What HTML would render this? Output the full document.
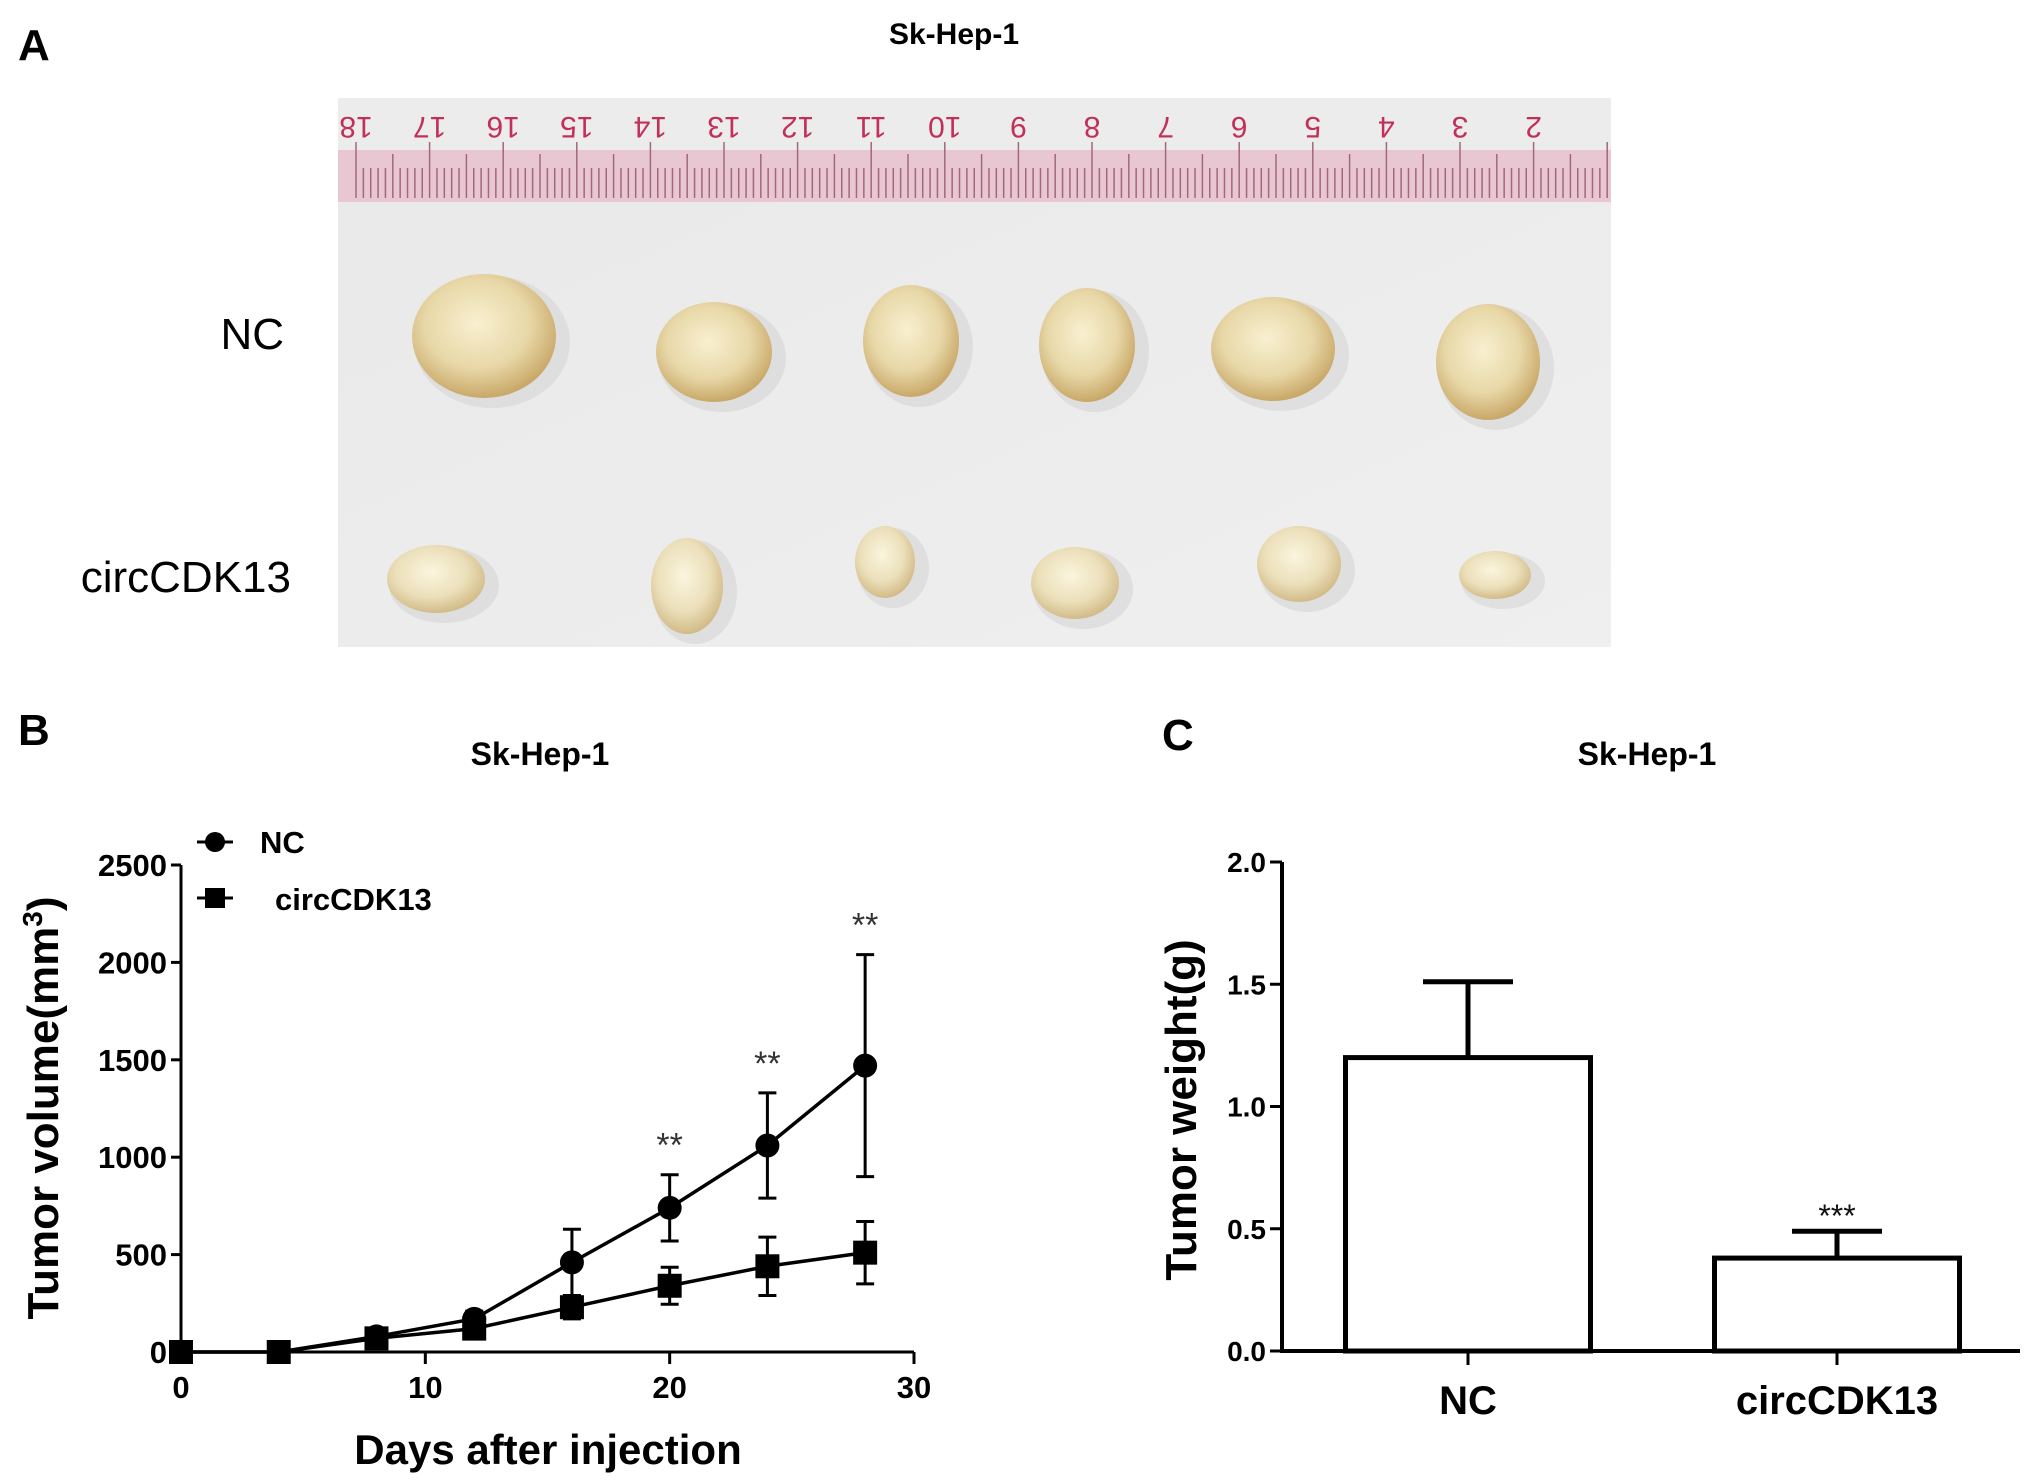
<!DOCTYPE html>
<html><head><meta charset="utf-8"><style>
html,body{margin:0;padding:0;background:#fff}
svg{display:block}
text{font-family:"Liberation Sans",Arial,sans-serif}
</style></head><body>
<svg id="fig" width="2031" height="1482" viewBox="0 0 2031 1482" xmlns="http://www.w3.org/2000/svg">
<defs>
<radialGradient id="tum" cx="45%" cy="40%" r="60%">
<stop offset="0" stop-color="#f8f0d0"/><stop offset="0.6" stop-color="#e8d8a8"/><stop offset="1" stop-color="#c9a868"/>
</radialGradient>
<radialGradient id="tum2" cx="45%" cy="40%" r="60%">
<stop offset="0" stop-color="#fbf5de"/><stop offset="0.6" stop-color="#ece0bb"/><stop offset="1" stop-color="#d2bb88"/>
</radialGradient>
<linearGradient id="bg" x1="0" y1="0" x2="1" y2="1"><stop offset="0" stop-color="#e9e9e9"/><stop offset="1" stop-color="#efefef"/></linearGradient>
</defs>
<!-- Panel A -->
<text x="18" y="60" font-size="44" font-weight="bold">A</text>
<text x="954" y="44" font-size="30" font-weight="bold" text-anchor="middle">Sk-Hep-1</text>
<g>
<rect x="338" y="98" width="1273" height="549" fill="url(#bg)"/>
<rect x="338" y="98" width="1273" height="60" fill="#ececec"/>
<rect x="338" y="150" width="1273" height="52" fill="#e8c6d2"/>
<g id="ruler"></g>
<g id="tumors"></g>
</g>
<text x="284" y="349" font-size="44" text-anchor="end">NC</text>
<text x="291" y="592" font-size="44" text-anchor="end">circCDK13</text>

<!-- Panel B -->
<text x="18" y="745" font-size="44" font-weight="bold">B</text>
<text x="540" y="765" font-size="32" font-weight="bold" text-anchor="middle">Sk-Hep-1</text>
<g id="lineChart"></g>

<!-- Panel C -->
<text x="1162" y="750" font-size="44" font-weight="bold">C</text>
<text x="1647" y="765" font-size="32" font-weight="bold" text-anchor="middle">Sk-Hep-1</text>
<g id="barChart"></g>
</svg>
<script>
// ---- Panel B data ----
const days = [0, 4, 8, 12, 16, 20, 24, 28];
const ncVolume = [0, 0, 80, 170, 460, 740, 1060, 1470];
const ncError = [0, 0, 20, 40, 170, 170, 270, 570];
const circVolume = [0, 0, 70, 120, 230, 340, 440, 510];
const circError = [0, 0, 15, 30, 60, 95, 150, 160];
const volTicks = [0, 500, 1000, 1500, 2000, 2500];
const dayTicks = [0, 10, 20, 30];
const starDays = [20, 24, 28];
// ---- Panel C data ----
const groups = ["NC", "circCDK13"];
const weights = [1.2, 0.38];
const weightErr = [0.31, 0.11];
const weightTicks = [0.0, 0.5, 1.0, 1.5, 2.0];

const NS = "http://www.w3.org/2000/svg";
function mk(parent, tag, attrs, txt){
  const e = document.createElementNS(NS, tag);
  for (const k in attrs) e.setAttribute(k, attrs[k]);
  if (txt !== undefined) e.textContent = txt;
  parent.appendChild(e);
  return e;
}

// ruler
const ruler = document.getElementById('ruler');
for (let i = 0; i <= 178; i++) {
  const x = 356 + i * 7.36;
  if (x > 1608) break;
  const h = i % 10 === 0 ? 56 : (i % 5 === 0 ? 44 : 30);
  const t = mk(ruler, 'line', {x1:x, x2:x, y1:198, y2:198-h, stroke:'#a3687c', 'stroke-width':1.5});
  
  
}
for (let n = 18; n >= 2; n--) {
  const x = 356 + (18 - n) * 73.6;
  const t = mk(ruler, 'text', {x:x, y:117, 'font-size':30, fill:'#c2305a', 'text-anchor':'middle', transform:`rotate(180 ${x} 117)`}, String(n));
  
  
}

// tumors
const tumors = document.getElementById('tumors');
const tum = [[484,336,72,62,'url(#tum)'],[714,352,58,50,'url(#tum)'],[911,341,48,56,'url(#tum)'],[1087,345,48,57,'url(#tum)'],[1273,349,62,52,'url(#tum)'],[1488,362,52,58,'url(#tum)'],
[436,579,49,34,'url(#tum2)'],[687,586,36,48,'url(#tum2)'],[885,562,30,36,'url(#tum2)'],[1075,583,44,36,'url(#tum2)'],[1299,564,42,38,'url(#tum2)'],[1495,575,36,24,'url(#tum2)']];
tum.forEach(t => {
  mk(tumors,'ellipse',{cx:t[0]+8,cy:t[1]+6,rx:t[2]+6,ry:t[3]+4,fill:'#d6d6d6',opacity:0.6});
  const e = mk(tumors,'ellipse',{cx:t[0],cy:t[1],rx:t[2],ry:t[3],fill:t[4]});
  
  
});

// ---- Line chart ----
const lc = document.getElementById('lineChart');
const bx0 = 181, bx1 = 914, by0 = 1352, by1 = 865;
const xS = d => bx0 + (d - 0) / 30 * (bx1 - bx0);
const yS = v => by0 - v / 2500 * (by0 - by1);
const ax = mk(lc,'path',{d:`M${bx0} ${by1} V${by0} H${bx1}`,fill:'none',stroke:'#000','stroke-width':3});


volTicks.forEach(v => {
  mk(lc,'line',{x1:bx0-10,x2:bx0,y1:yS(v),y2:yS(v),stroke:'#000','stroke-width':3});
  const t = mk(lc,'text',{x:bx0-14,y:yS(v)+11,'font-size':31,'font-weight':'bold','text-anchor':'end'},String(v));
  
  
});
dayTicks.forEach(d => {
  mk(lc,'line',{x1:xS(d),x2:xS(d),y1:by0,y2:by0+12,stroke:'#000','stroke-width':3});
  const t = mk(lc,'text',{x:xS(d),y:by0+46,'font-size':31,'font-weight':'bold','text-anchor':'middle'},String(d));
  
  
});
const yt = mk(lc,'text',{x:0,y:0,'font-size':44,'font-weight':'bold','text-anchor':'middle',transform:`translate(58 1108) rotate(-90)`});


yt.appendChild(document.createTextNode('Tumor volume(mm'));
mk(yt,'tspan',{dy:-16,'font-size':28},'3');
mk(yt,'tspan',{dy:16},')');
const xt = mk(lc,'text',{x:548,y:1464,'font-size':42,'font-weight':'bold','text-anchor':'middle'},'Days after injection');



function series(vals, errs, marker, name){
  const g = mk(lc,'g',{});
  
  
  mk(g,'polyline',{points:days.map((d,i)=>`${xS(d)},${yS(vals[i])}`).join(' '),fill:'none',stroke:'#000','stroke-width':3.5});
  days.forEach((d,i)=>{
    if (errs[i] > 30) {
      const x = xS(d), y1 = yS(vals[i]+errs[i]), y2 = yS(vals[i]-errs[i]);
      mk(g,'path',{d:`M${x} ${y1} V${y2} M${x-9} ${y1} H${x+9} M${x-9} ${y2} H${x+9}`,stroke:'#000','stroke-width':3,fill:'none'});
    }
    let m;
    if (marker === 'circle') m = mk(g,'circle',{cx:xS(d),cy:yS(vals[i]),r:12,fill:'#000'});
    else m = mk(g,'rect',{x:xS(d)-12,y:yS(vals[i])-12,width:24,height:24,fill:'#000'});
    
    
  });
}
series(circVolume, circError, 'square', 'circcdk13-series');
series(ncVolume, ncError, 'circle', 'nc-series');
starDays.forEach(d => {
  const i = days.indexOf(d);
  const t = mk(lc,'text',{x:xS(d),y:yS(ncVolume[i]+ncError[i])-18,'font-size':34,'text-anchor':'middle',fill:'#333'},'**');
  
  
});
// legend
const lg = mk(lc,'g',{});


mk(lg,'line',{x1:197,x2:233,y1:842,y2:842,stroke:'#000','stroke-width':3});
mk(lg,'circle',{cx:215,cy:842,r:10,fill:'#000'});
mk(lg,'text',{x:260,y:853,'font-size':31,'font-weight':'bold'},'NC');
mk(lg,'line',{x1:197,x2:233,y1:898,y2:898,stroke:'#000','stroke-width':3});
mk(lg,'rect',{x:205,y:888,width:20,height:20,fill:'#000'});
mk(lg,'text',{x:275,y:910,'font-size':31,'font-weight':'bold'},'circCDK13');

// ---- Bar chart ----
const bc = document.getElementById('barChart');
const cx0 = 1282, cx1 = 2020, cy0 = 1351, cy1 = 862;
const wS = v => cy0 - v / 2.0 * (cy0 - cy1);
const centers = [1468, 1837];
const barW = 245;
const cax = mk(bc,'path',{d:`M${cx0} ${cy1} V${cy0} H${cx1}`,fill:'none',stroke:'#000','stroke-width':4});


weightTicks.forEach(v => {
  mk(bc,'line',{x1:cx0-12,x2:cx0,y1:wS(v),y2:wS(v),stroke:'#000','stroke-width':3});
  const t = mk(bc,'text',{x:cx0-16,y:wS(v)+10,'font-size':28,'font-weight':'bold','text-anchor':'end'},v.toFixed(1));
  
  
});
const cyt = mk(bc,'text',{x:0,y:0,'font-size':44,'font-weight':'bold','text-anchor':'middle',transform:`translate(1196 1110) rotate(-90)`},'Tumor weight(g)');


groups.forEach((g,i)=>{
  const c = centers[i], top = wS(weights[i]), et = wS(weights[i]+weightErr[i]);
  mk(bc,'path',{d:`M${c} ${top} V${et} M${c-45} ${et} H${c+45}`,stroke:'#000','stroke-width':5,fill:'none'});
  const r = mk(bc,'rect',{x:c-barW/2,y:top,width:barW,height:cy0-top,fill:'#fff',stroke:'#000','stroke-width':5});
  
  
  mk(bc,'line',{x1:c,x2:c,y1:cy0,y2:cy0+14,stroke:'#000','stroke-width':3});
  const t = mk(bc,'text',{x:c,y:1414,'font-size':40,'font-weight':'bold','text-anchor':'middle'},g);
  
  
});
const st = mk(bc,'text',{x:centers[1],y:wS(weights[1]+weightErr[1])-4,'font-size':32,'text-anchor':'middle',fill:'#111'},'***');


</script>
</body></html>
